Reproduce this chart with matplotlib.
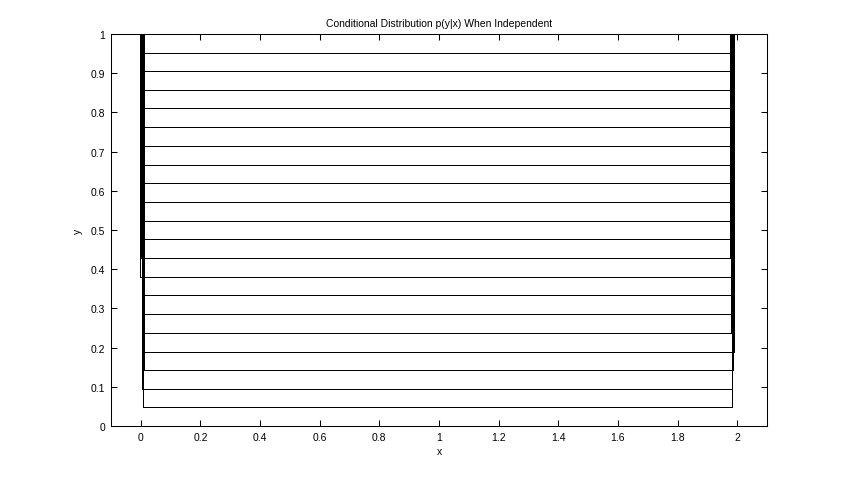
import numpy as np
import matplotlib.pyplot as plt
from matplotlib.ticker import FuncFormatter

# contour levels of p(y|x) (k/21 spacing)
levels = [0.048, 0.095, 0.143, 0.190, 0.238, 0.286, 0.333, 0.381, 0.429, 0.476,
          0.524, 0.571, 0.619, 0.667, 0.714, 0.762, 0.810, 0.857, 0.905, 0.952]
# where each contour turns up at the left and right edges
x_left = [0.007, 0.004, 0.010, 0.007, 0.004, 0.010, 0.007, -0.003, 0.000, 0.0035,
          -0.003, 0.000, 0.0035, 0.007, -0.003, 0.000, 0.010, 0.0035, -0.003, 0.000]
x_right = [1.981, 1.983, 1.987, 1.990, 1.980, 1.983, 1.987, 1.990, 1.977, 1.980,
           1.983, 1.987, 1.990, 1.977, 1.980, 1.983, 1.987, 1.990, 1.977, 1.983]
y_top = 1.0

plt.rcParams['font.family'] = ['Liberation Sans', 'DejaVu Sans']

fig = plt.figure(figsize=(8.47, 4.81), dpi=100)
ax = fig.add_axes([111 / 847, 1 - 427 / 481, (767 - 111) / 847, (427 - 35) / 481])

for lev, xl, xr in zip(levels, x_left, x_right):
    xs = [xl, xl, xr, xr]
    ys = [y_top, lev, lev, y_top]
    ax.plot(xs, ys, color='black', linewidth=0.5, antialiased=False)

ax.set_xlim(-0.1, 2.1)
ax.set_ylim(0, 1)
ax.set_xticks(np.arange(0, 2.01, 0.2))
ax.set_yticks(np.arange(0, 1.01, 0.1))
fmt = FuncFormatter(lambda v, p: '%g' % round(v, 2))
ax.xaxis.set_major_formatter(fmt)
ax.yaxis.set_major_formatter(fmt)
ax.tick_params(direction='in', top=True, right=True, length=4.5, width=0.75,
               labelsize=7.5, pad=4)
for s in ax.spines.values():
    s.set_linewidth(0.75)

ax.set_title('Conditional Distribution p(y|x) When Independent', fontsize=7.5, pad=6)
ax.set_xlabel('x', fontsize=7.5, labelpad=3)
ax.set_ylabel('y', fontsize=7.5, labelpad=6)

fig.savefig('out.png', dpi=100)
